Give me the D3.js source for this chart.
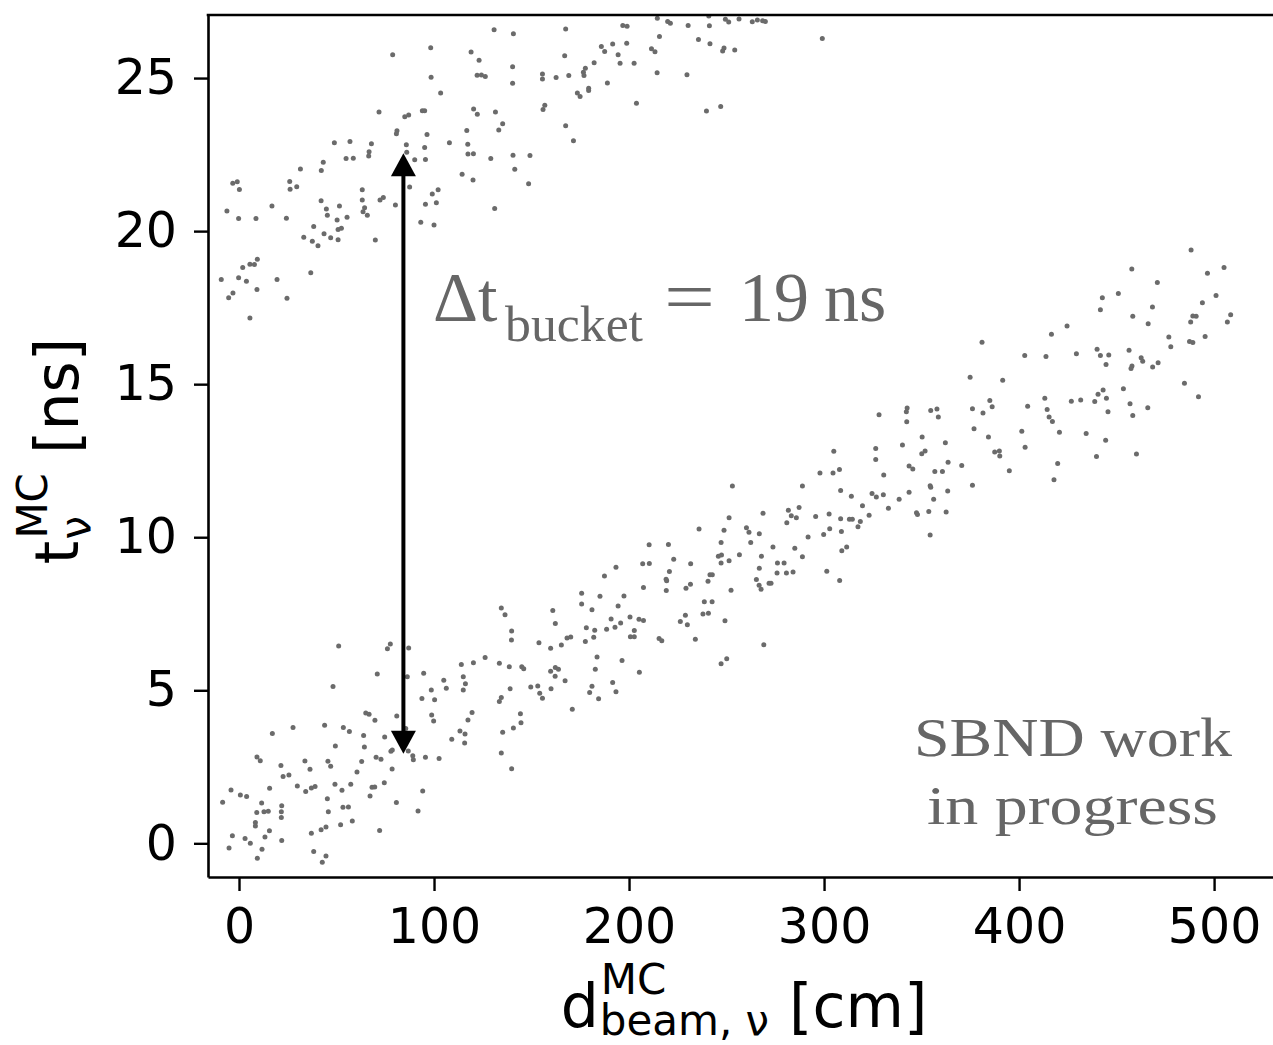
<!DOCTYPE html>
<html>
<head>
<meta charset="utf-8">
<script src="https://cdn.jsdelivr.net/npm/d3@7"></script>
<style>
  html, body { margin: 0; padding: 0; background: #fff; }
  svg { display: block; }
</style>
</head>
<body>
<svg id="chart" width="1273" height="1045"></svg>
<script>
// ---------------- DATA ----------------
// Axis ticks
const xTicks = [0, 100, 200, 300, 400, 500];
const yTicks = [0, 5, 10, 15, 20, 25];

// Neutrinos from the later beam bucket (upper band): [d_beam (cm), t (ns)]
const upperBucket = [
[130.8,26.58],[140.7,26.45],[98.3,25.99],[78.8,25.76],[119.0,25.85],[123.1,25.58],[140.3,25.37],[98.5,25.03],[122.1,25.09],[124.3,25.10],
[126.3,25.05],[140.3,24.83],[103.4,24.51],[71.8,23.89],[85.0,23.74],[87.0,23.79],[94.0,23.93],[95.2,23.93],[120.3,23.99],[122.2,23.82],
[131.5,23.89],[135.2,23.51],[133.2,23.30],[81.0,23.28],[80.7,23.18],[96.4,23.16],[116.8,23.29],[48.9,22.89],[56.9,22.93],[67.9,22.85],
[66.7,22.59],[66.5,22.45],[85.8,22.82],[86.0,22.58],[95.2,22.73],[95.6,22.34],[90.1,22.33],[107.9,22.89],[117.3,22.84],[117.4,22.52],
[120.2,22.53],[129.1,22.37],[140.5,22.48],[141.4,22.02],[54.9,22.37],[58.6,22.38],[43.2,22.25],[42.2,21.98],[31.5,22.03],[114.4,21.86],
[120.0,21.67],[87.5,21.44],[-3.2,21.56],[-0.9,21.61],[0.2,21.36],[26.0,21.62],[26.2,21.37],[29.6,21.45],[63.2,21.35],[63.2,21.02],
[72.3,21.02],[74.0,21.10],[102.1,21.35],[99.1,21.21],[101.2,20.93],[95.6,20.88],[80.2,20.85],[131.1,20.74],[-6.2,20.66],[-0.2,20.41],
[8.7,20.41],[16.9,20.82],[24.3,20.42],[42.1,20.99],[44.8,20.72],[45.3,20.52],[51.5,20.82],[55.4,20.45],[50.3,20.36],[50.8,20.05],
[52.5,20.09],[64.4,20.76],[63.6,20.63],[65.8,20.52],[38.3,20.15],[33.2,19.80],[37.6,19.67],[40.5,19.52],[43.6,19.91],[47.0,19.78],
[50.8,19.72],[69.9,19.71],[93.2,20.29],[100.0,20.20],[9.4,19.08],[5.6,18.92],[7.9,18.91],[1.9,18.81],[-9.1,18.42],[-0.2,18.48],
[3.8,18.36],[9.2,18.09],[19.5,18.42],[36.8,18.64],[-3.1,17.98],[-5.3,17.82],[24.6,17.81],[5.6,17.16],
[167.5,26.60],[167.0,25.73],[155.6,25.13],[155.6,24.97],[162.6,25.02],[169.1,25.08],[177.6,25.32],[176.6,25.19],[176.9,25.08],[182.1,25.50],
[185.8,26.03],[187.5,25.87],[191.6,26.11],[196.8,26.72],[199.0,26.69],[198.8,26.14],[194.4,25.76],[195.4,25.48],[202.6,25.48],[188.9,24.84],
[173.5,24.51],[174.9,24.40],[179.3,24.67],[179.3,24.59],[156.8,24.11],[155.9,23.97],[167.5,23.44],[171.5,22.95],[203.8,24.18],[211.5,25.96],
[213.3,25.86],[215.6,26.36],[214.5,26.95],[219.8,26.85],[221.2,26.79],[230.3,26.72],[241.2,26.71],[240.9,27.03],[235.6,26.26],[241.5,26.12],
[248.7,25.98],[248.0,25.88],[254.2,25.92],[249.4,26.92],[251.1,26.83],[256.4,26.93],[263.2,26.84],[265.8,26.90],[268.5,26.87],[269.9,26.85],
[214.4,25.17],[229.7,25.11],[239.7,23.92],[247.0,24.07],[299.1,26.29],[149.2,22.47],[148.5,21.55]
];

// Neutrinos from the earlier beam bucket (lower band): [d_beam (cm), t (ns)]
const lowerBucket = [
[134.5,7.69],[136.4,7.47],[139.8,6.94],[139.7,6.64],[51.1,6.45],[76.1,6.36],[77.6,6.51],[87.0,6.38],[70.9,5.53],[86.3,5.44],
[94.7,5.56],[48.2,5.12],[114.0,5.84],[120.2,5.90],[126.2,6.07],[133.5,5.88],[138.6,5.77],[105.0,5.33],[106.3,5.07],[115.0,5.44],
[116.1,5.21],[115.0,5.01],[98.6,5.01],[93.8,4.73],[100.3,4.69],[139.0,5.05],[134.5,4.76],[133.5,4.63],[65.0,4.26],[66.7,4.22],
[69.7,4.02],[80.9,4.16],[98.8,4.19],[99.8,4.00],[119.5,4.27],[117.4,4.03],[27.7,3.78],[43.9,3.86],[53.5,3.78],[56.6,3.65],
[63.9,3.52],[74.7,3.47],[85.5,3.75],[113.3,3.67],[115.9,3.57],[109.1,3.40],[115.7,3.28],[135.2,3.63],[140.7,3.77],[17.1,3.59],
[49.4,3.18],[64.3,3.15],[77.9,3.01],[78.6,3.05],[86.8,3.02],[89.1,2.86],[89.4,2.73],[95.6,2.81],[102.6,2.77],[134.5,2.95],
[139.8,2.44],[9.2,2.82],[10.9,2.70],[21.5,2.54],[33.8,2.69],[36.4,2.42],[45.6,2.68],[47.0,2.52],[62.9,2.67],[70.3,2.81],
[72.8,2.75],[78.5,2.43],[60.5,2.33],[22.6,2.18],[25.6,2.23],[-4.1,1.74],[0.7,1.58],[3.9,1.53],[15.7,1.80],[29.9,1.87],
[34.2,1.69],[37.1,1.81],[39.0,1.86],[49.2,1.93],[52.8,1.73],[57.3,1.93],[68.2,1.83],[69.6,1.84],[74.5,1.98],[67.2,1.55],
[94.2,1.71],[-8.4,1.34],[11.6,1.32],[9.1,1.01],[12.8,1.03],[15.0,1.05],[21.9,1.23],[21.7,1.03],[21.7,0.84],[45.3,1.46],
[45.8,1.03],[53.3,1.18],[56.1,1.19],[80.7,1.33],[91.8,1.06],[8.4,0.68],[8.4,0.57],[15.6,0.41],[13.3,0.21],[3.1,0.16],
[5.8,0.00],[-3.4,0.25],[-5.1,-0.15],[11.8,-0.19],[9.4,-0.49],[21.9,0.09],[37.1,0.33],[42.1,0.44],[44.6,0.53],[52.1,0.61],
[58.1,0.73],[72.1,0.42],[38.3,-0.27],[44.6,-0.41],[42.7,-0.62],
[144.3,4.23],[144.6,3.94],[145.0,5.77],[146.0,5.70],[149.6,5.11],[153.2,5.14],[154.2,4.90],[155.6,4.74],[160.0,5.05],[159.8,5.62],
[162.2,5.74],[163.8,5.69],[162.1,5.46],[167.2,5.31],[153.8,6.55],[159.8,6.37],[165.3,6.48],[168.2,6.71],[170.1,6.74],[160.9,7.61],
[162.2,7.18],[175.7,8.17],[175.7,7.82],[181.0,7.63],[185.1,8.07],[187.4,8.73],[193.3,9.02],[197.4,8.08],[194.4,7.75],[190.8,7.33],
[188.5,6.99],[192.8,7.06],[195.7,7.20],[200.5,7.39],[205.1,7.32],[207.4,7.28],[202.7,6.95],[200.7,6.75],[202.7,6.75],[178.1,7.04],
[182.4,6.96],[181.9,6.73],[177.6,6.59],[183.6,6.09],[182.7,5.69],[196.4,5.97],[205.3,5.59],[181.0,5.13],[179.8,4.93],[184.4,4.72],
[191.6,5.25],[193.3,4.95],[170.9,4.38],[210.3,9.75],[220.2,9.76],[207.0,9.13],[210.4,9.14],[222.9,9.28],[220.7,8.88],[219.0,8.63],
[219.3,8.58],[219.1,8.26],[207.4,8.36],[215.4,6.69],[216.8,6.62],[226.3,7.25],[228.9,7.45],[229.9,7.14],[234.0,6.67],[237.9,7.49],
[240.7,7.52],[238.6,7.89],[242.6,7.89],[229.2,8.33],[231.5,8.46],[240.5,8.56],[241.5,8.77],[242.7,8.77],[231.6,9.13],[235.9,10.27],
[247.2,9.83],[248.7,10.23],[251.3,10.64],[253.0,11.67],[245.8,9.38],[247.4,9.42],[247.2,9.16],[251.3,9.23],[256.6,9.43],[252.3,8.27],
[249.2,7.27],[247.2,5.87],[250.1,6.03],[269.1,6.49],[260.2,10.31],[261.5,10.16],[262.4,9.83],[266.8,10.11],[267.9,9.38],[266.8,8.99],
[265.3,8.62],[266.7,8.43],[267.7,8.30],[271.8,8.50],[272.8,8.50],[273.8,9.68],[276.1,9.16],[279.5,9.16],[275.9,8.83],[280.7,8.83],
[284.1,8.86],[268.7,10.78],[280.9,10.47],[281.7,10.88],[283.2,10.70],[285.8,10.64],[287.2,10.97],[288.9,11.67],[291.8,10.01],[285.0,9.64],
[288.9,9.36],[295.7,10.68],
[391.6,15.13],[413.2,14.54],[414.4,14.17],[415.4,13.93],[404.4,14.28],[385.0,14.47],[386.2,14.26],[381.5,14.06],[376.1,14.20],[376.9,13.54],
[384.3,13.27],[401.4,13.46],[403.1,12.94],[387.5,12.78],[389.9,12.82],[390.1,12.65],[395.0,12.17],[376.1,11.70],[370.6,12.34],[363.6,12.45],
[362.2,13.09],[350.3,13.27],[351.8,12.82],[350.1,12.73],[340.2,13.01],[342.4,13.77],[342.2,14.10],[342.6,14.22],[354.7,14.14],[357.9,14.19],
[358.6,13.93],[328.2,14.00],[326.5,12.90],[326.5,12.54],[330.6,12.03],[343.6,12.33],[345.5,12.23],[356.8,12.15],[360.7,12.15],[354.4,11.68],
[354.7,11.63],[343.6,11.47],[356.2,11.24],[363.4,11.51],[338.5,11.24],[333.0,10.95],[324.6,11.43],[326.8,11.31],[330.4,11.39],[319.7,11.03],
[323.1,10.72],[314.0,11.34],[308.5,11.53],[305.0,12.81],[297.9,12.10],[304.6,12.10],[307.9,12.21],[302.6,10.76],[308.5,10.60],[313.0,10.59],
[314.5,10.59],[318.6,10.51],[317.4,10.34],[302.9,10.28],[299.8,10.09],[308.9,10.19],[311.6,9.68],[309.1,9.56],[347.4,10.80],[347.9,10.74],
[353.7,10.84],[362.6,10.82],[354.4,10.07],[301.4,8.89],[308.0,8.59],
[488.2,19.38],[505.1,18.81],[496.6,18.62],[457.8,18.76],[470.9,18.32],[450.9,17.96],[442.7,17.82],[441.7,17.43],[468.4,17.52],[458.3,17.22],
[466.2,16.97],[501.0,17.90],[494.0,17.66],[489.1,17.23],[490.8,17.22],[488.0,17.03],[506.8,17.03],[508.5,17.27],[495.4,16.56],[476.8,16.54],
[477.8,16.22],[487.4,16.39],[489.1,16.36],[424.6,16.90],[416.6,16.63],[402.9,15.94],[413.8,15.90],[429.4,15.99],[440.0,16.14],[441.7,15.94],
[446.0,15.95],[444.6,15.64],[456.4,16.11],[462.6,15.86],[463.4,15.75],[457.9,15.59],[457.4,15.51],[468.5,15.56],[471.3,15.70],[484.8,15.03],
[492.0,14.59],[453.5,14.85],[443.1,14.81],[440.5,14.67],[444.8,14.54],[426.8,14.44],[431.6,14.48],[438.8,14.43],[456.9,14.36],[466.0,14.23],
[458.3,13.98],[445.6,14.10],[420.7,13.43],[434.4,13.39],[444.4,13.17],[439.7,12.64],[460.2,12.72],[419.8,12.41],[417.1,13.78],[417.9,11.88],
[381.0,16.37],[374.9,15.23]
];

// Bucket separation arrow: position (cm) and ends (ns)
const arrowD = 84.3;
const arrowT = [2.93, 22.54];

// ---------------- LAYOUT ----------------
const svg = d3.select('#chart');
const plot = { left: 208, right: 1280, top: 15, bottom: 877 };
const x = d3.scaleLinear().domain([-15.9, 533.8]).range([plot.left, plot.right]);
const y = d3.scaleLinear().domain([-1.1, 27.06]).range([plot.bottom, plot.top]);

const SANS = "'DejaVu Sans', sans-serif";
const SERIF = "'Liberation Serif', 'Times New Roman', serif";
const dotColor = '#6b6b6b';
const textGray = '#666666';

svg.append('defs').append('clipPath').attr('id', 'clip')
  .append('rect')
  .attr('x', plot.left).attr('y', plot.top)
  .attr('width', plot.right - plot.left).attr('height', plot.bottom - plot.top);

// points
const pts = svg.append('g').attr('clip-path', 'url(#clip)');
pts.selectAll('circle.up').data(upperBucket).join('circle')
  .attr('class', 'up')
  .attr('cx', d => x(d[0])).attr('cy', d => y(d[1])).attr('r', 2.5)
  .attr('fill', dotColor);
pts.selectAll('circle.lo').data(lowerBucket).join('circle')
  .attr('class', 'lo')
  .attr('cx', d => x(d[0])).attr('cy', d => y(d[1])).attr('r', 2.5)
  .attr('fill', dotColor);

// axes
const xAxis = d3.axisBottom(x).tickValues(xTicks).tickSize(14).tickSizeOuter(0).tickPadding(17);
const yAxis = d3.axisLeft(y).tickValues(yTicks).tickSize(14).tickSizeOuter(0).tickPadding(17);

const gx = svg.append('g').attr('transform', `translate(0,${plot.bottom})`).call(xAxis);
const gy = svg.append('g').attr('transform', `translate(${plot.left},0)`).call(yAxis);
[gx, gy].forEach(g => {
  g.select('.domain').attr('stroke', '#000').attr('stroke-width', 2.6);
  g.selectAll('.tick line').attr('stroke', '#000').attr('stroke-width', 2.4);
  g.selectAll('.tick text').attr('fill', '#000')
    .style('font-family', SANS).style('font-size', '49px');
});
// top spine
svg.append('line')
  .attr('x1', plot.left - 1.3).attr('x2', plot.right)
  .attr('y1', plot.top).attr('y2', plot.top)
  .attr('stroke', '#000').attr('stroke-width', 2.6);

// arrow
const ax = x(arrowD), ay0 = y(arrowT[0]), ay1 = y(arrowT[1]);
const headL = 23, headW = 12.5;
const arrowG = svg.append('g');
arrowG.append('line')
  .attr('x1', ax).attr('x2', ax)
  .attr('y1', ay1 + headL - 1).attr('y2', ay0 - headL + 1)
  .attr('stroke', '#000').attr('stroke-width', 4);
arrowG.append('path')
  .attr('d', `M${ax},${ay1} L${ax - headW},${ay1 + headL} L${ax + headW},${ay1 + headL} Z`)
  .attr('fill', '#000');
arrowG.append('path')
  .attr('d', `M${ax},${ay0} L${ax - headW},${ay0 - headL} L${ax + headW},${ay0 - headL} Z`)
  .attr('fill', '#000');

// annotation: Δt_bucket = 19 ns
const ann = svg.append('g').attr('fill', textGray).style('font-family', SERIF);
ann.append('text').attr('x', 433).attr('y', 321).style('font-size', '70px').text('Δt');
ann.append('text').attr('x', 505).attr('y', 341).style('font-size', '50px')
  .attr('textLength', 138).attr('lengthAdjust', 'spacingAndGlyphs').text('bucket');
ann.append('text').attr('x', 664).attr('y', 321).style('font-size', '72px')
  .attr('textLength', 51).attr('lengthAdjust', 'spacingAndGlyphs').text('=');
ann.append('text').attr('x', 739).attr('y', 321).style('font-size', '70px').text('19');
ann.append('text').attr('x', 824).attr('y', 321).style('font-size', '70px').text('ns');

// SBND work in progress
const wip = svg.append('g').attr('fill', textGray).style('font-family', SERIF).style('font-size', '54px');
wip.append('text').attr('x', 914).attr('y', 756)
  .attr('textLength', 318).attr('lengthAdjust', 'spacingAndGlyphs').text('SBND work');
wip.append('text').attr('x', 927).attr('y', 824)
  .attr('textLength', 291).attr('lengthAdjust', 'spacingAndGlyphs').text('in progress');

// ---- math-style axis labels ----
function mathLabel(g, base, sup, sub, tail, fs, sfs, supDy, subDy) {
  const t0 = g.append('text').attr('x', 0).attr('y', 0).style('font-size', fs + 'px').text(base);
  const w0 = t0.node().getComputedTextLength();
  const ts = g.append('text').attr('x', w0 + 2).attr('y', supDy).style('font-size', sfs + 'px').text(sup);
  const tb = g.append('text').attr('x', w0 + 1).attr('y', subDy).style('font-size', sfs + 'px').text(sub);
  const w1 = w0 + 2 + Math.max(ts.node().getComputedTextLength(), tb.node().getComputedTextLength());
  const tt = g.append('text').attr('x', w1).attr('y', 0).style('font-size', fs + 'px')
    .attr('xml:space', 'preserve').text(tail);
  return w1 + tt.node().getComputedTextLength();
}

const xl = svg.append('g').attr('fill', '#000').style('font-family', SANS);
const xw = mathLabel(xl, 'd', 'MC', 'beam, ν', ' [cm]', 60, 42, -33, 8);
xl.attr('transform', `translate(${744 - xw / 2},1027)`);

const yl = svg.append('g').attr('fill', '#000').style('font-family', SANS);
const yw = mathLabel(yl, 't', 'MC', 'ν', ' [ns]', 60, 42, -31, 12);
yl.attr('transform', `translate(78,${451 + yw / 2}) rotate(-90)`);
</script>
</body>
</html>
